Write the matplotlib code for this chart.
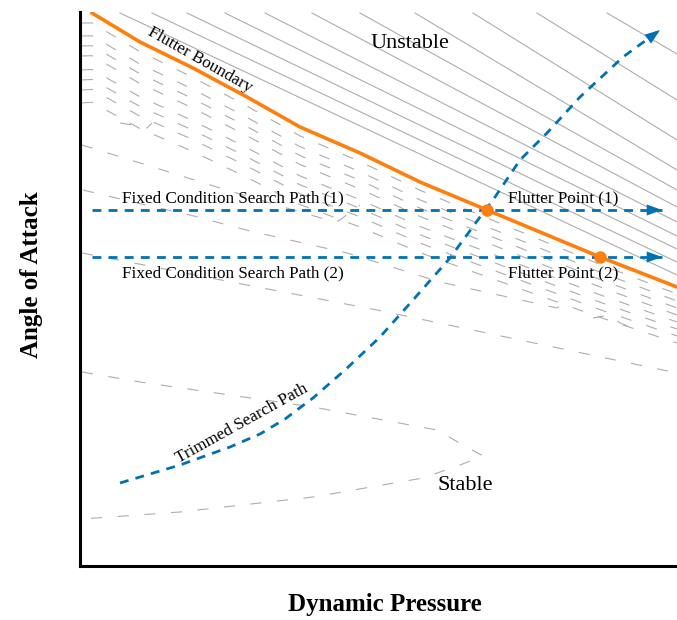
import numpy as np
import matplotlib.pyplot as plt

plt.rcParams['font.family'] = ['Liberation Serif', 'DejaVu Serif']

# flutter boundary (x = dynamic pressure, y = angle of attack, arbitrary units)
boundary_x = [12, 60, 113, 167, 220, 280, 340, 407, 520, 597]
boundary_y = [553, 524, 498, 469, 439, 413, 384, 356, 309, 279]

flutter_x = [407, 520]
flutter_y = [356, 309]

fixed_path_y = [356, 309]
fixed_path_x = [12, 582]

trim_x = [40, 100, 150, 180, 205, 233, 265, 300, 333, 370, 400, 413, 440, 467, 500, 543, 580]
trim_y = [83, 101, 119, 132, 147, 168, 196, 229, 266, 308, 349, 366, 406, 433, 469, 509, 536]

# unstable side contours: start on the top edge, end on the right edge
solid_top_x = [40, 72, 107, 145, 185, 232, 280, 335, 393, 457, 527]
solid_right_y = [291, 304, 317, 330, 344, 359, 376, 396, 426, 466, 512]

# stable side contours hugging the boundary (offset below it at left / right end)
band_off_left = [10, 23, 33, 43, 57, 67, 77, 90]
band_off_right = [7, 14, 21, 28, 35, 42, 49, 56]

# lower stable side contours
stable_lines = [
    ([2, 60, 233, 357, 383, 403, 380, 343, 233, 100, 2],
     [194, 184, 159, 136, 121, 110, 101, 88, 69, 54, 47]),
    ([2, 167, 297, 440, 597],
     [313, 281, 256, 226, 193]),
    ([3, 57, 110, 170, 267, 360, 477, 485],
     [376, 363, 351, 335, 313, 284, 258, 264]),
    ([2, 60, 140, 220, 255, 260, 280],
     [421, 403, 378, 354, 344, 346, 361]),
    ([40, 53, 60, 67, 72],
     [443, 441, 439, 438, 443]),
    ([513, 530, 540, 550],
     [248, 251, 243, 239]),
]

orange = '#ff7f0e'
blue = '#0072b2'
grey = '#adadad'

fig = plt.figure(figsize=(6.77, 6.2), dpi=100)
ax = fig.add_axes([80 / 677, 54 / 620, 597 / 677, 554 / 620])
ax.set_xlim(0, 597)
ax.set_ylim(0, 554)

## background contours
W = 597
for xt, yr in zip(solid_top_x, solid_right_y):
    ax.plot([xt, W], [553, yr], color=grey, lw=0.8, zorder=1)

xs = np.array([2] + boundary_x)
ys = np.interp(xs, boundary_x, boundary_y)
for ol, orr in zip(band_off_left, band_off_right):
    off = ol + (orr - ol) * xs / W
    ax.plot(xs, ys - off, color=grey, lw=0.8, dashes=(10, 14), zorder=1)

for lx, ly in stable_lines:
    ax.plot(lx, ly, color=grey, lw=0.8, dashes=(10, 14), zorder=1)

## search paths
for py in fixed_path_y:
    ax.plot(fixed_path_x, [py, py], color=blue, lw=2, dashes=(3.2, 2.6), zorder=3)
    ax.annotate('', xy=(fixed_path_x[1], py), xytext=(fixed_path_x[1] - 4, py),
                arrowprops=dict(arrowstyle='-|>,head_length=0.55,head_width=0.2',
                                color=blue, lw=0, mutation_scale=20), zorder=4)

ax.plot(trim_x, trim_y, color=blue, lw=2, dashes=(3.2, 2.6), zorder=3)
ax.annotate('', xy=(trim_x[-1], trim_y[-1]),
            xytext=(trim_x[-1] - 4, trim_y[-1] - 3),
            arrowprops=dict(arrowstyle='-|>,head_length=0.55,head_width=0.2',
                            color=blue, lw=0, mutation_scale=20), zorder=4)

## boundary
ax.plot(boundary_x, boundary_y, color=orange, lw=2.6, zorder=5)
ax.plot(flutter_x, flutter_y, 'o', color=orange, ms=8, zorder=6)

## labels
fs = 12.3
ax.text(330, 523, 'Unstable', fontsize=16, ha='center', va='center')
ax.text(385, 80, 'Stable', fontsize=16, ha='center', va='center')
ax.text(120, 506, 'Flutter Boundary', fontsize=fs, rotation=-29.5,
        ha='center', va='center', rotation_mode='anchor')
ax.text(483, 368, 'Flutter Point (1)', fontsize=fs, ha='center', va='center')
ax.text(483, 293, 'Flutter Point (2)', fontsize=fs, ha='center', va='center')
ax.text(153, 368, 'Fixed Condition Search Path (1)', fontsize=fs, ha='center', va='center')
ax.text(153, 293, 'Fixed Condition Search Path (2)', fontsize=fs, ha='center', va='center')
ax.text(162, 142, 'Trimmed Search Path', fontsize=fs, rotation=29,
        ha='center', va='center', rotation_mode='anchor')

fig.text(385 / 677, 1 - 604 / 620, 'Dynamic Pressure', fontsize=18,
         fontweight='bold', ha='center', va='center')
fig.text(32 / 677, 1 - 275 / 620, 'Angle of Attack', fontsize=18,
         fontweight='bold', ha='center', va='center', rotation=90)

ax.set_xticks([])
ax.set_yticks([])
for s in ['top', 'right']:
    ax.spines[s].set_visible(False)
for s in ['left', 'bottom']:
    ax.spines[s].set_linewidth(2.2)
    ax.spines[s].set_color('black')

fig.savefig('out.png', dpi=100)
